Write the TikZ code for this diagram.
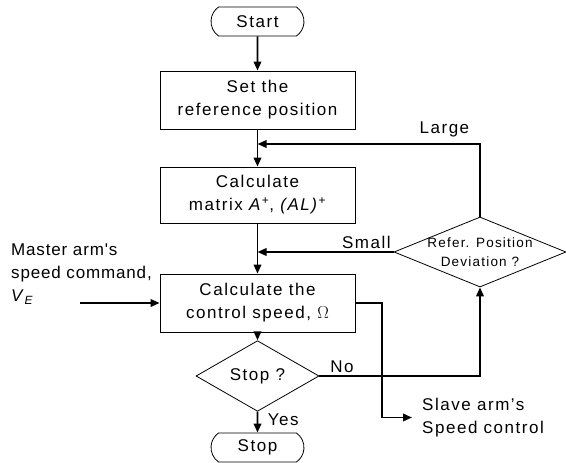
\documentclass[tikz,border=0pt]{standalone}
\usepackage{fontspec}
\setmainfont{Liberation Sans}[LetterSpace=9]
\newfontfamily\tightfont{Liberation Sans}[LetterSpace=5]
\usetikzlibrary{shapes.geometric,shapes.misc,arrows.meta}
\begin{document}
\begin{tikzpicture}[x=1pt,y=-1pt,
  every node/.style={font=\fontsize{17}{23}\selectfont},
  proc/.style={draw,line width=0.8pt,minimum width=195pt,align=center,inner sep=0pt},
  term/.style={draw,line width=0.8pt,rounded rectangle,rounded rectangle arc length=110,minimum width=93pt,minimum height=29pt,inner sep=0pt},
  dec/.style={draw,line width=0.8pt,diamond,inner sep=0pt,align=center},
  arr/.style={line width=1.9pt,-{Triangle[length=9pt,width=7.5pt]}},
  lab/.style={inner sep=0pt}]
\useasboundingbox (0,0) rectangle (566,463);
\node[term] (start) at (257.5,21.5) {Start};
\node[proc,minimum height=58pt] (box1) at (257.5,100) {Set the\\reference position};
\node[proc,minimum height=56pt] (box2) at (257.5,195) {Calculate\\matrix \textit{A}\textsuperscript{+}, \textit{(AL)}\textsuperscript{+}};
\node[proc,minimum height=58pt] (box3) at (257.5,303) {Calculate the\\control speed, $\Omega$};
\node[dec,minimum width=123pt,minimum height=43pt] (stopq) at (257.5,376) {Stop ?};
\node[term] (stopt) at (257.5,447.5) {Stop};
\node[dec,minimum width=172pt,minimum height=70pt] (refq) at (480,252) {};
\node[lab,align=center,font=\fontsize{13.5}{19}\selectfont] (reftxt) at (refq.center) {Refer. Position\\Deviation ?};
\node[lab,align=left,anchor=north west,font=\fontsize{17}{23}\tightfont] (mlab) at (11,244) {Master arm's\\speed command,\\\textit{V}\textsubscript{\textit{E}}};
\node[lab,align=left,anchor=west,inner xsep=10pt] (slave) at (412,417.5) {Slave arm's\\Speed control};
\coordinate (inp) at (80,303);
\coordinate (j1) at (257.5,144);
\coordinate (j2) at (257.5,252);
\draw[arr] (start) -- (box1);
\draw[arr] (box1) -- (box2);
\draw[arr] (box2) -- (box3);
\draw[arr] (box3) -- (stopq);
\draw[arr] (stopq) -- node[right,xshift=6pt,yshift=2pt]{Yes} (stopt);
\draw[arr] (inp) -- (box3.west);
\draw[arr] (refq.north) |- node[pos=0.58,above,yshift=3pt]{Large} (j1);
\draw[arr] (refq.west) -- node[pos=0.2,above,yshift=-1pt]{Small} (j2);
\draw[arr] (box3.east) -- ++(27,0) |- (slave.west);
\draw[arr] (stopq.east) -| node[pos=0.07,above,yshift=-1pt]{No} (refq.south);
\end{tikzpicture}
\end{document}
